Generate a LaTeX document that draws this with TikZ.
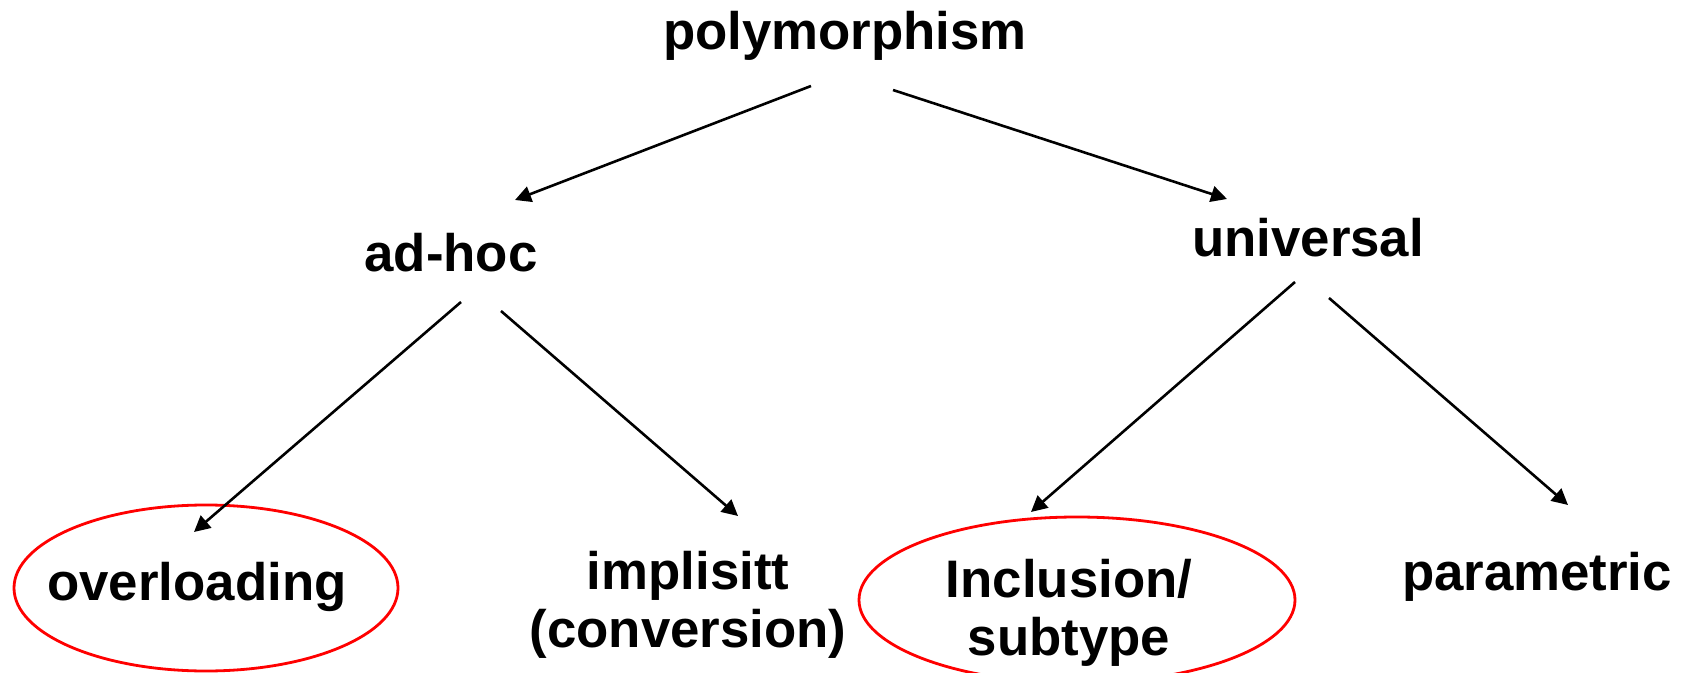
\documentclass[tikz,border=0pt]{standalone}
\usepackage{fontspec}
\setmainfont{Liberation Sans}
\usepackage{tikz}
\usetikzlibrary{arrows.meta}

\begin{document}
\begin{tikzpicture}[
  x=0.5pt,y=-0.5pt,
  font=\fontsize{26.4pt}{29pt}\selectfont\bfseries,
  lbl/.style={inner sep=0pt,align=center,anchor=base},
  arr/.style={-{Triangle[length=8pt,width=8pt]},line width=1.3pt,black},
  ring/.style={draw=red,line width=1.4pt}
]
\clip (0,0) rectangle (1681,673);
% top
\node[lbl] (poly) at (845,50) {polymorphism};
% middle level
\node[lbl] (adhoc) at (451,272) {ad-hoc};
\node[lbl] (univ)  at (1308,257) {universal};
% leaves
\node[lbl] (over)  at (197,600) {overloading};
\node[lbl] (impl)  at (688,647) {implisitt\\(conversion)};
\node[lbl] (incl)  at (1069,655) {Inclusion/\\subtype};
\node[lbl] (param) at (1537,590) {parametric};
% rings
\draw[ring] ([shift={(9,-12)}]over.base) ellipse [x radius=192,y radius=83];
\draw[ring] ([shift={(8,-55)}]incl.base) ellipse [x radius=218,y radius=83];

\draw[arr] ([shift={(-34,36)}]poly.base) -- ([shift={(64,-72)}]adhoc.base);
\draw[arr] ([shift={(48,40)}]poly.base) -- ([shift={(-81,-58)}]univ.base);
\draw[arr] ([shift={(10,30)}]adhoc.base) -- ([shift={(-3,-68)}]over.base);
\draw[arr] ([shift={(50,39)}]adhoc.base) -- ([shift={(50,-131)}]impl.base);
\draw[arr] ([shift={(-13,25)}]univ.base) -- ([shift={(-38,-143)}]incl.base);
\draw[arr] ([shift={(21,41)}]univ.base) -- ([shift={(31,-85)}]param.base);
\end{tikzpicture}
\end{document}
